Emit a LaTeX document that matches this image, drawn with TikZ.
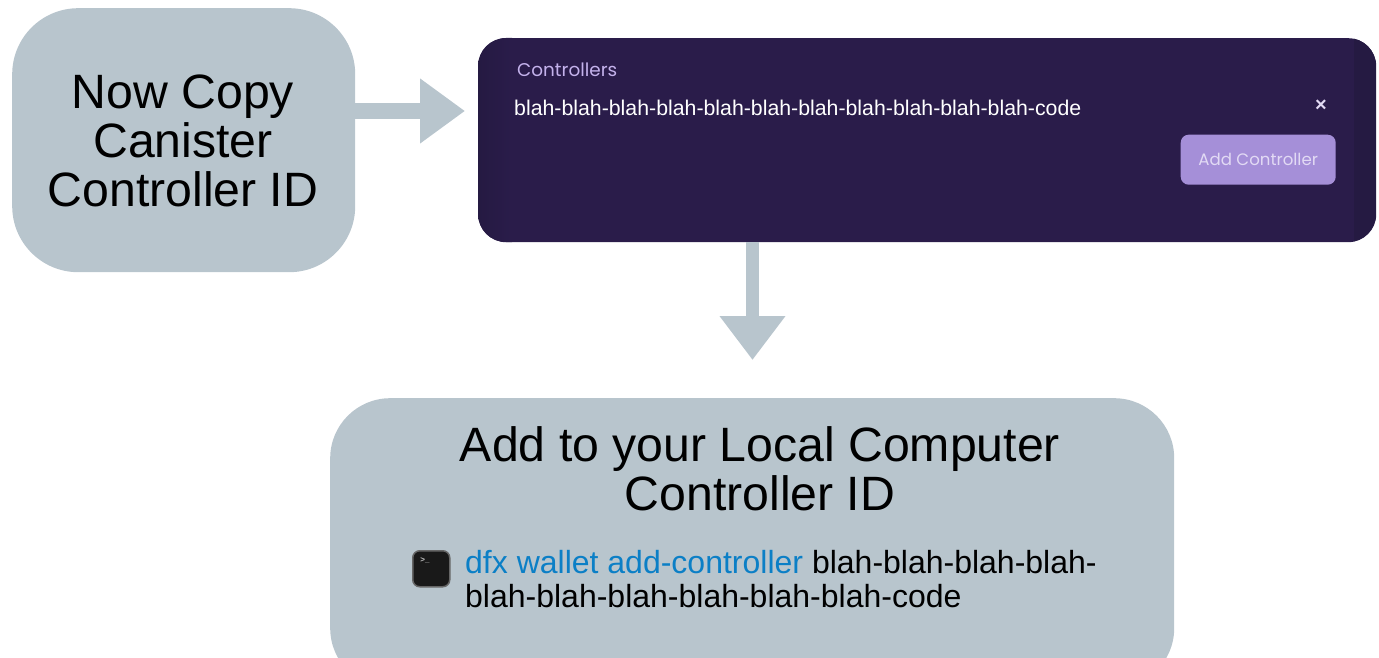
\documentclass[tikz,border=0pt]{standalone}
\usepackage{fontspec}
\setmainfont{Liberation Sans}
\newfontfamily\uifont{Poppins}
\usetikzlibrary{arrows.meta}
\definecolor{boxgrey}{HTML}{B8C5CD}
\definecolor{panel}{HTML}{2A1C4A}
\definecolor{panelside}{HTML}{251A42}
\definecolor{lilac}{HTML}{A58FD8}
\definecolor{lilactext}{HTML}{C4B2EC}
\definecolor{btntext}{HTML}{E2DAF4}
\definecolor{cmdblue}{HTML}{0B7FC6}
\tikzset{
  x=1pt,y=-1pt,
  greybox/.style={fill=boxgrey,draw=none,rounded corners=#1,inner sep=0pt,anchor=north west},
  bigtext/.style={font=\fontsize{48.2}{49}\selectfont,align=center,text=black,inner sep=0pt},
  cmdtext/.style={font=\fontsize{32}{34}\selectfont,align=left,text=black,inner sep=0pt,anchor=north west},
  blockh/.style={draw=boxgrey,line width=16pt,-{Triangle[length=45pt,width=62pt,fill=boxgrey]}},
  blockv/.style={draw=boxgrey,line width=13pt,-{Triangle[length=44pt,width=63pt,fill=boxgrey]}},
}
\begin{document}
\begin{tikzpicture}
\useasboundingbox (0,0) rectangle (1379,658);
\clip (0,0) rectangle (1379,658);
\node[greybox=66pt,minimum width=343pt,minimum height=264pt] (copybox) at (12,8) {};
\node[bigtext] (copytext) at (183,141) {Now Copy\\Canister\\Controller ID};
\node[fill=panel,rounded corners=28pt,inner sep=0pt,anchor=north west,minimum width=898pt,minimum height=204pt] (panelbox) at (478,38) {};
\begin{scope}
\clip[rounded corners=28pt] (478,38) rectangle (1376,242);
\shade[left color=panelside,right color=panel] (478,38) rectangle (512,242);
\fill[panelside] (1354,38) rectangle (1376,242);
\end{scope}
\node[greybox=60pt,minimum width=844pt,minimum height=290pt] (addbox) at (330,398) {};
\node[bigtext] (addtext) at (760,468.5) {Add to your Local Computer\\Controller ID};
\coordinate (harrowend) at (465,111);
\coordinate (varrowend) at (752.5,360);
\draw[blockh] (copybox.east |- harrowend) -- (harrowend);
\draw[blockv] (panelbox.south -| varrowend) -- (varrowend);
\node[inner sep=0pt,anchor=west,text=lilactext,font=\uifont\fontsize{18.4}{20}\selectfont] (ctitle) at (517,70) {Controllers};
\node[inner sep=0pt,anchor=west,text=white,font=\fontsize{21.3}{24}\selectfont] (cid) at (514,108) {blah-blah-blah-blah-blah-blah-blah-blah-blah-blah-blah-code};
\node[inner sep=0pt,text=btntext,font=\bfseries\fontsize{20}{20}\selectfont] (closex) at (1321,106) {×};
\node[fill=lilac,rounded corners=8pt,inner sep=0pt,anchor=north west,minimum width=155pt,minimum height=50pt,text=btntext,font=\uifont\fontsize{16.6}{18}\selectfont] (addbtn) at (1180.5,134.5) {Add Controller};
\node[fill=black!90,draw=black!60,line width=1.5pt,rounded corners=7pt,anchor=north west,inner sep=0pt,minimum width=37pt,minimum height=36pt] (term) at (412,550) {};
\node[inner sep=0pt,text=white!75!black,font=\bfseries\fontsize{8}{8}\selectfont] (prompt) at (425,561) {>\_};
\node[cmdtext] (cmd) at (465,550) {\textcolor{cmdblue}{dfx wallet add-controller} blah-blah-blah-blah-\\blah-blah-blah-blah-blah-blah-code};
\end{tikzpicture}
\end{document}
